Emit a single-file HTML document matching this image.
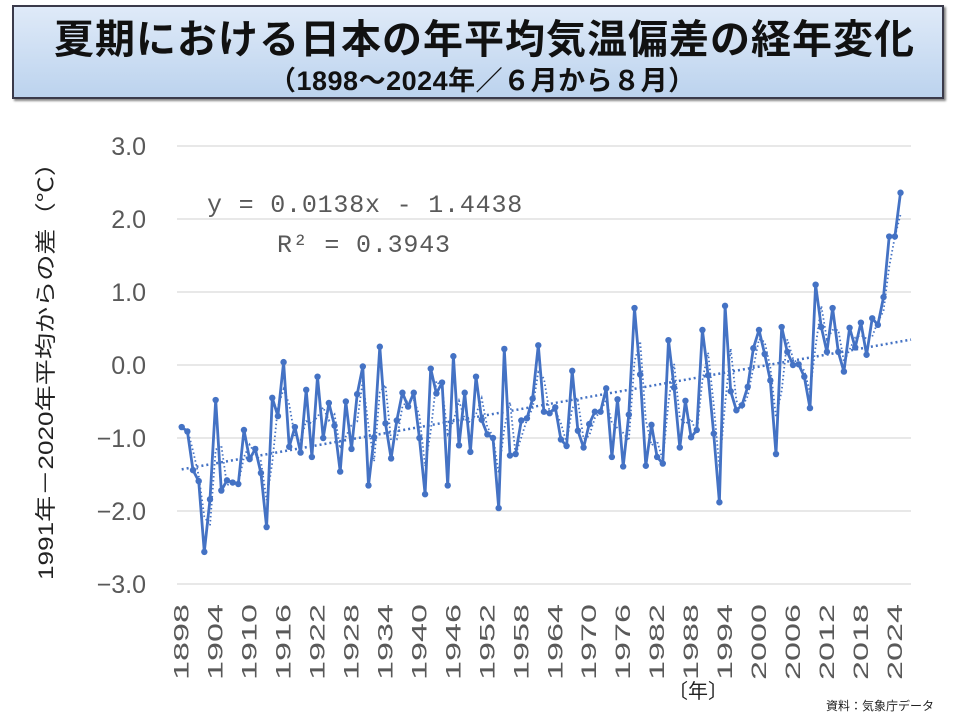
<!DOCTYPE html>
<html><head><meta charset="utf-8">
<style>
html,body{margin:0;padding:0;background:#fff;}
body{width:960px;height:720px;overflow:hidden;position:relative;font-family:"Liberation Sans","Noto Sans CJK JP",sans-serif;}
#title-box{position:absolute;left:12px;top:5px;width:932px;height:94px;box-sizing:border-box;border:2px solid #3a3a4a;background:linear-gradient(#dfeaf8,#bcd3ee);box-shadow:2px 2px 2px #888;}
#title{position:absolute;left:40px;top:10px;white-space:nowrap;font-size:40px;font-weight:bold;color:#111;letter-spacing:1px;line-height:46px;}
#subtitle{position:absolute;left:255px;top:58px;white-space:nowrap;font-size:27px;font-weight:bold;color:#111;line-height:32px;letter-spacing:0.5px;}
svg{position:absolute;left:0;top:0;}
</style></head><body>
<div id="title-box">
<div id="title">夏期における日本の年平均気温偏差の経年変化</div>
<div id="subtitle">（1898～2024年／６月から８月）</div>
</div>
<svg id="chart" width="960" height="720"></svg>
<script>
const startYear = 1898;
const values = [
-0.85,-0.91,-1.44,-1.59,-2.56,-1.84,-0.48,-1.72,-1.58,-1.61,-1.63,-0.89,-1.29,-1.15,-1.48,-2.22,-0.45,-0.70,0.04,-1.12,
-0.85,-1.20,-0.34,-1.26,-0.16,-1.00,-0.52,-0.83,-1.46,-0.50,-1.15,-0.40,-0.02,-1.65,-0.99,0.25,-0.80,-1.28,-0.76,-0.38,
-0.57,-0.38,-1.00,-1.77,-0.05,-0.39,-0.24,-1.65,0.12,-1.10,-0.38,-1.19,-0.16,-0.75,-0.95,-1.00,-1.96,0.22,-1.24,-1.22,
-0.76,-0.73,-0.46,0.27,-0.64,-0.66,-0.58,-1.02,-1.11,-0.08,-0.90,-1.13,-0.81,-0.64,-0.64,-0.32,-1.26,-0.47,-1.39,-0.68,
0.78,-0.13,-1.38,-0.82,-1.26,-1.35,0.34,-0.31,-1.13,-0.49,-0.99,-0.89,0.48,-0.14,-0.94,-1.88,0.81,-0.36,-0.62,-0.55,
-0.30,0.23,0.48,0.15,-0.21,-1.22,0.52,0.18,0.00,0.01,-0.16,-0.59,1.10,0.52,0.18,0.78,0.18,-0.09,0.51,0.24,
0.58,0.14,0.64,0.55,0.93,1.76,1.76,2.36];
const yTicks = [3.0,2.0,1.0,0.0,-1.0,-2.0,-3.0];
const yTickLabels = ["3.0","2.0","1.0","0.0","\u22121.0","\u22122.0","\u22123.0"];
const xTickYears = [1898,1904,1910,1916,1922,1928,1934,1940,1946,1952,1958,1964,1970,1976,1982,1988,1994,2000,2006,2012,2018,2024];
const trendSlope = 0.0138;
const trendIntercept = -1.4438;

const NS="http://www.w3.org/2000/svg";
const svg=document.getElementById('chart');
const X0=181.7, DX=5.66, Y0=365, DY=73;
function xs(i){return X0+i*DX;}
function ys(v){return Y0-v*DY;}
function mk(t,a){const e=document.createElementNS(NS,t);for(const k in a)e.setAttribute(k,a[k]);svg.appendChild(e);return e;}

yTicks.forEach((v,k)=>{
  const g=mk('line',{x1:177,x2:911,y1:ys(v),y2:ys(v),stroke:'#d9d9d9','stroke-width':1.3});
  
  
  const t=mk('text',{x:146,y:ys(v)+9,'text-anchor':'end','font-size':25,fill:'#595959','font-family':'Liberation Sans, sans-serif'});
  t.textContent=yTickLabels[k];
  
  
});
xTickYears.forEach(yr=>{
  const x=xs(yr-startYear);
  const t=mk('text',{x:0,y:0,transform:`translate(${x+7},604) rotate(-90)`,'text-anchor':'end','font-size':21,fill:'#595959','font-family':'Liberation Sans, sans-serif',textLength:76,lengthAdjust:'spacingAndGlyphs'});
  t.textContent=yr;
  
  
});
const n=values.length;
const tl=mk('line',{x1:xs(0),y1:ys(trendSlope*1+trendIntercept),x2:911,y2:ys(trendSlope*((911-X0)/DX+1)+trendIntercept),stroke:'#4472c4','stroke-width':2.5,'stroke-dasharray':'2 3'});


let ma='';
for(let i=1;i<n;i++){ma+=(i===1?'M':'L')+xs(i).toFixed(1)+','+ys((values[i]+values[i-1])/2).toFixed(1);}
const mp=mk('path',{d:ma,fill:'none',stroke:'#4472c4','stroke-width':1.8,'stroke-dasharray':'1.5 2.5'});


let d='';
values.forEach((v,i)=>{d+=(i?'L':'M')+xs(i).toFixed(1)+','+ys(v).toFixed(1);});
const sp=mk('path',{d:d,fill:'none',stroke:'#4472c4','stroke-width':2.8,'stroke-linejoin':'round'});


values.forEach((v,i)=>{
  const c=mk('circle',{cx:xs(i),cy:ys(v),r:3.2,fill:'#4472c4'});
  
  
});
function txt(s,a,name){const t=mk('text',a);t.textContent=s;return t;}
txt('y = 0.0138x - 1.4438',{x:207,y:212,'font-size':25,fill:'#595959','font-family':'Liberation Mono, monospace','letter-spacing':0.8},'trend-equation');
txt('R² = 0.3943',{x:277,y:252,'font-size':25,fill:'#595959','font-family':'Liberation Mono, monospace','letter-spacing':0.8},'r-squared');
txt('1991年－2020年平均からの差（℃）',{x:0,y:0,transform:'translate(53,365) rotate(-90)','text-anchor':'middle','font-size':21,fill:'#222','font-family':'Liberation Sans, Noto Sans CJK JP, sans-serif',textLength:430,lengthAdjust:'spacingAndGlyphs'},'y-axis-title');
txt('〔年〕',{x:668,y:698,'font-size':20,fill:'#222','font-family':'Liberation Sans, Noto Sans CJK JP, sans-serif'},'x-axis-title');
txt('資料：気象庁データ',{x:826,y:710,'font-size':12,fill:'#222','font-family':'Liberation Sans, Noto Sans CJK JP, sans-serif'},'source-note');
</script>
</body></html>
